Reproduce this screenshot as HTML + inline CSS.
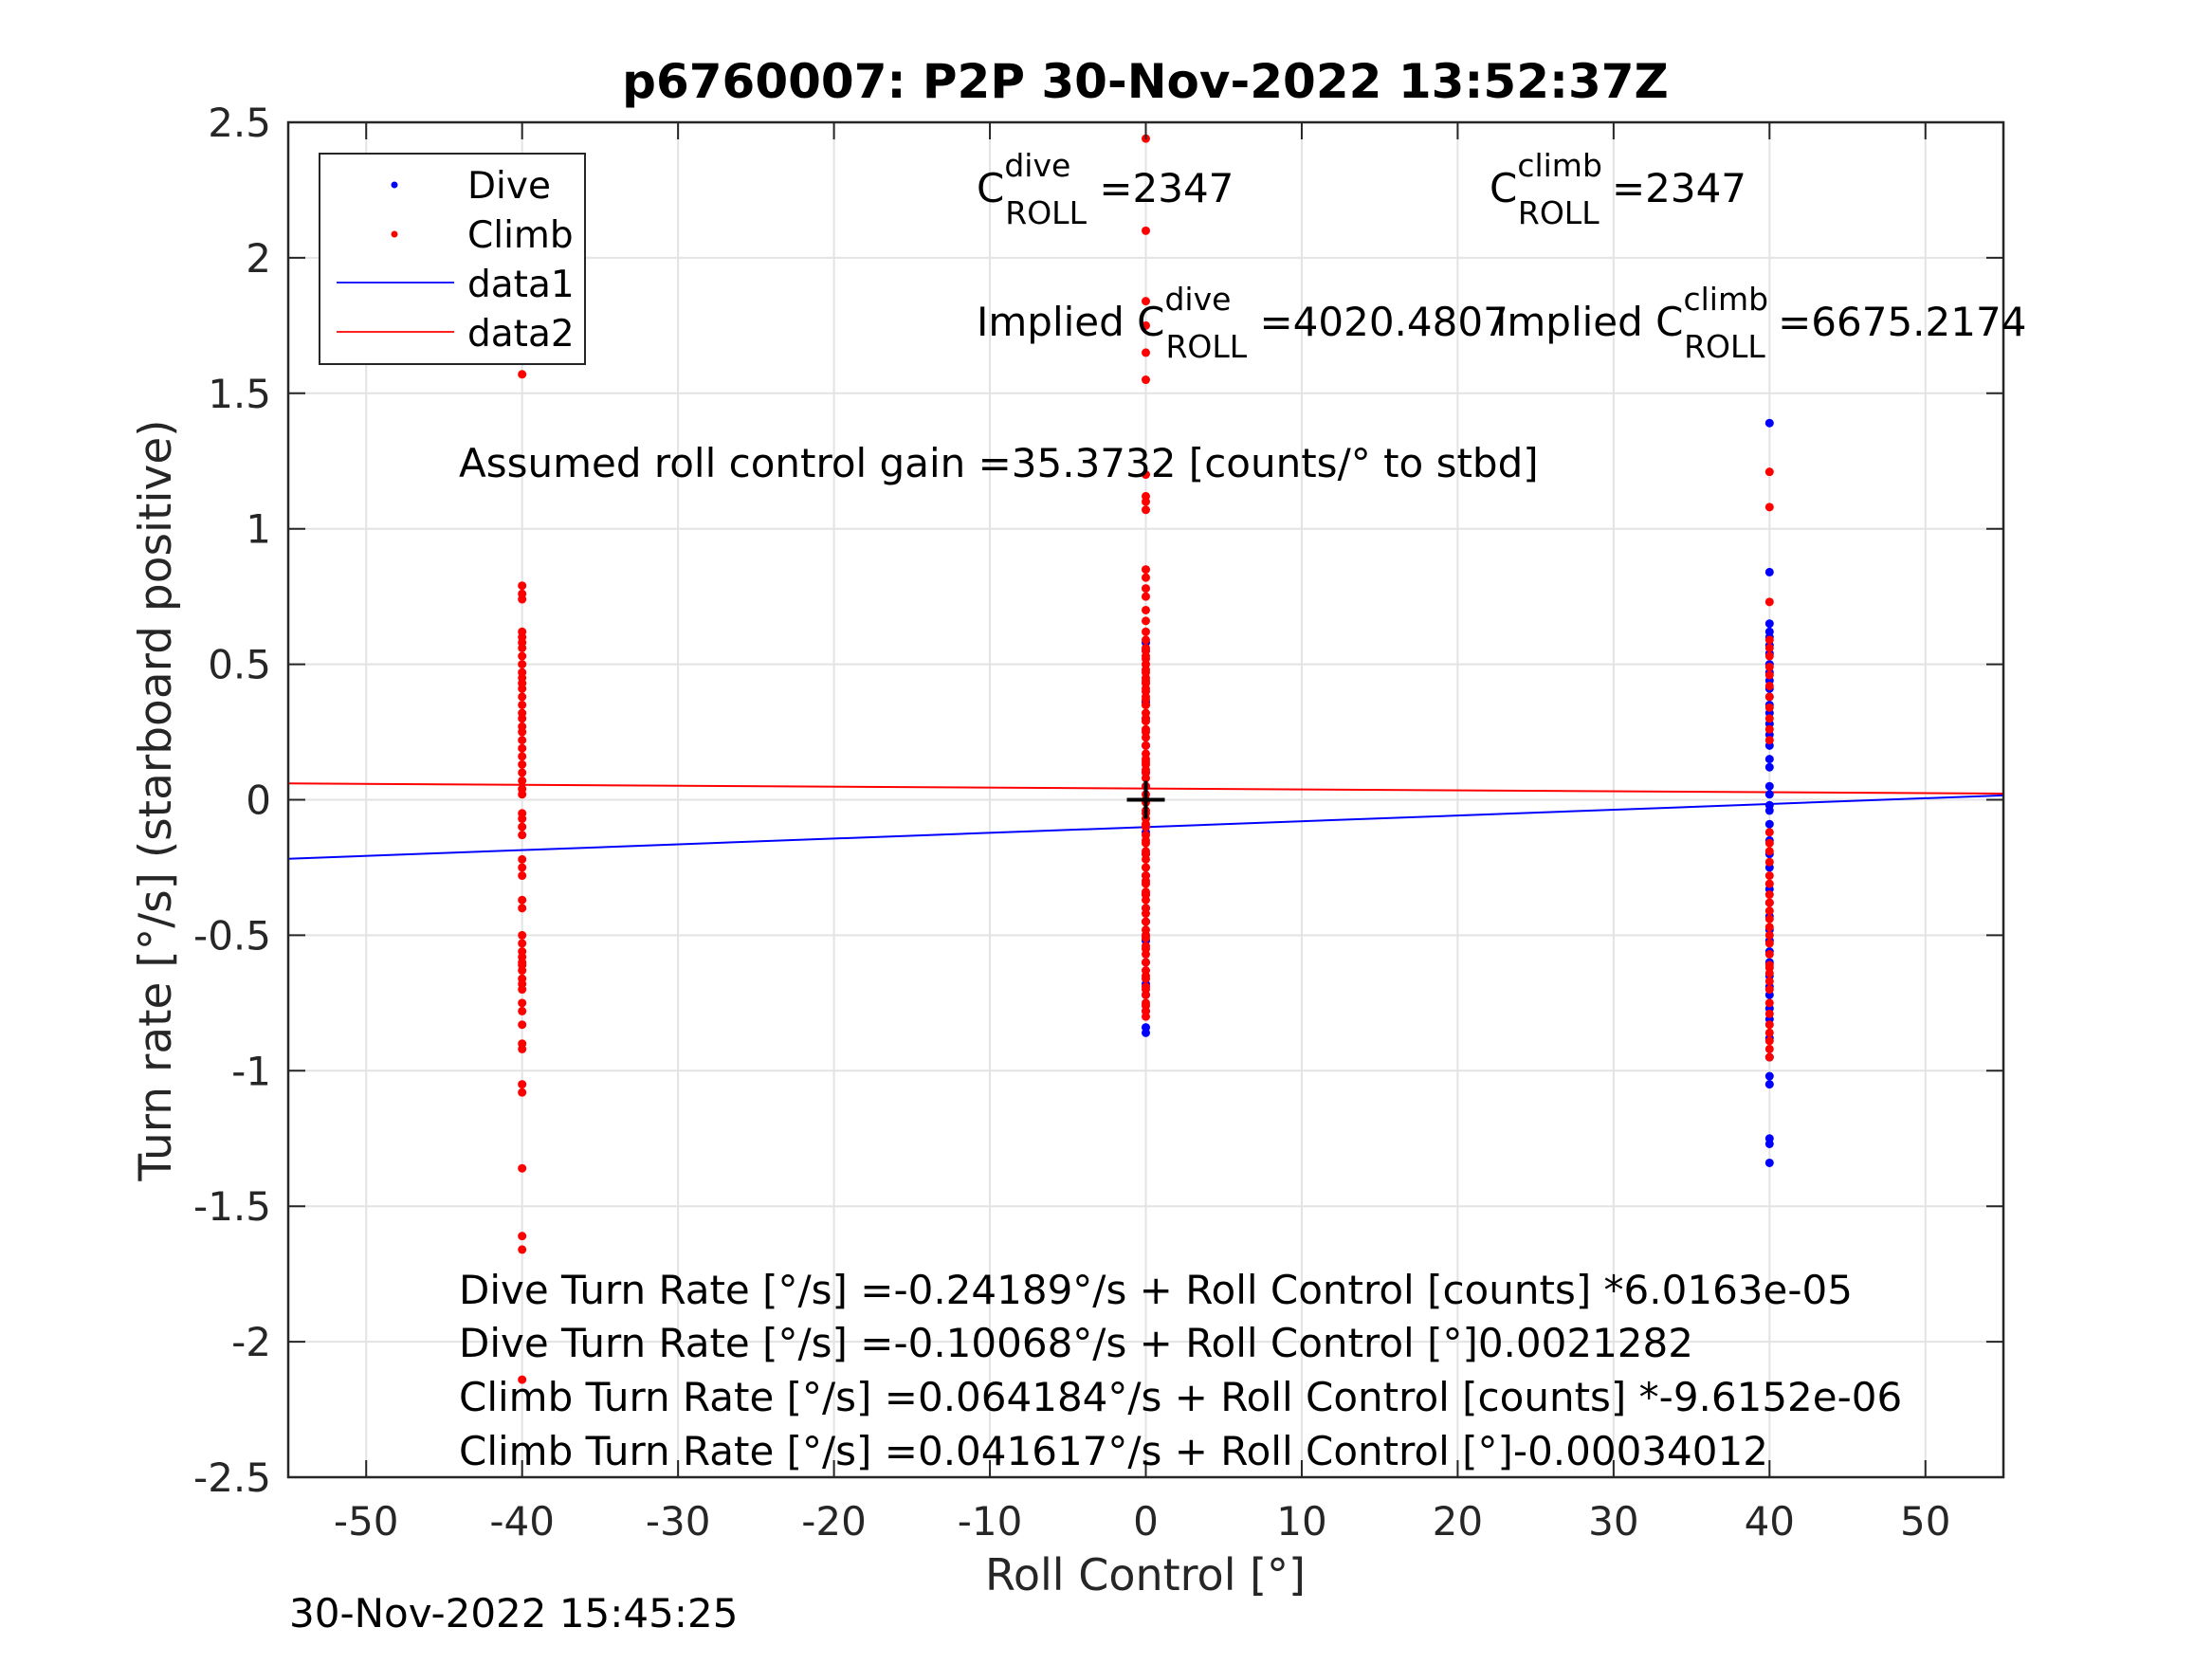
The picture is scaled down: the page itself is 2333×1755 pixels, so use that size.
<!DOCTYPE html>
<html><head><meta charset="utf-8"><style>
html,body{margin:0;padding:0;background:#fff}
svg text{font-family:"DejaVu Sans","Liberation Sans",sans-serif}
</style></head><body>
<svg id="chart" width="2333" height="1750" viewBox="0 0 2333 1750" xmlns="http://www.w3.org/2000/svg">
<rect x="0" y="0" width="2333" height="1750" fill="#fff"/>
<rect x="304" y="129" width="1809" height="1429" fill="#fff"/>
<g id="grid"></g>
<g id="lines"></g>
<g id="points"></g>
<g id="axes"></g>
<text x="1208" y="103" font-size="50" font-weight="bold" text-anchor="middle" fill="#000">p6760007: P2P 30-Nov-2022 13:52:37Z</text>
<text x="1208" y="1677" font-size="46" text-anchor="middle" fill="#262626">Roll Control [°]</text>
<text transform="translate(180,844) rotate(-90)" font-size="47" text-anchor="middle" fill="#262626">Turn rate [°/s] (starboard positive)</text>
<text x="305" y="1716" font-size="42" fill="#000">30-Nov-2022 15:45:25</text>
<g font-size="42" fill="#000">
<text x="1030" y="213">C<tspan font-size="33" dy="-27">dive</tspan><tspan font-size="33" dx="-69" dy="50">ROLL</tspan><tspan dy="-23"> =2347</tspan></text>
<text x="1571" y="213">C<tspan font-size="33" dy="-27">climb</tspan><tspan font-size="33" dx="-89" dy="50">ROLL</tspan><tspan dy="-23"> =2347</tspan></text>
<text x="1030" y="354">Implied C<tspan font-size="33" dy="-27">dive</tspan><tspan font-size="33" dx="-69" dy="50">ROLL</tspan><tspan dy="-23"> =4020.4807</tspan></text>
<text x="1577" y="354">Implied C<tspan font-size="33" dy="-27">climb</tspan><tspan font-size="33" dx="-89" dy="50">ROLL</tspan><tspan dy="-23"> =6675.2174</tspan></text>
<text x="484" y="503">Assumed roll control gain =35.3732 [counts/° to stbd]</text>
<text x="484" y="1375">Dive Turn Rate [°/s] =-0.24189°/s + Roll Control [counts] *6.0163e-05</text>
<text x="484" y="1431">Dive Turn Rate [°/s] =-0.10068°/s + Roll Control [°]0.0021282</text>
<text x="484" y="1488">Climb Turn Rate [°/s] =0.064184°/s + Roll Control [counts] *-9.6152e-06</text>
<text x="484" y="1545">Climb Turn Rate [°/s] =0.041617°/s + Roll Control [°]-0.00034012</text>
</g>
<g>
<rect x="337" y="162" width="280" height="222" fill="#fff" stroke="#262626" stroke-width="2"/>
<circle cx="416" cy="195" r="3.5" fill="#00f"/>
<text x="493" y="209" font-size="39">Dive</text>
<circle cx="416" cy="247" r="3.5" fill="#f00"/>
<text x="493" y="261" font-size="39">Climb</text>
<line x1="355" y1="298" x2="479" y2="298" stroke="#00f" stroke-width="1.8"/>
<text x="493" y="313" font-size="39">data1</text>
<line x1="355" y1="350" x2="479" y2="350" stroke="#f00" stroke-width="1.8"/>
<text x="493" y="365" font-size="39">data2</text>
</g>
</svg>
<script>
const xTicks = [-50,-40,-30,-20,-10,0,10,20,30,40,50];
const yTicks = [-2.5,-2,-1.5,-1,-0.5,0,0.5,1,1.5,2,2.5];
const yTickLabels = ["-2.5","-2","-1.5","-1","-0.5","0","0.5","1","1.5","2","2.5"];
const diveLineX = [-55,55];
const diveLineY = [-0.2177,0.0163];
const climbLineX = [-55,55];
const climbLineY = [0.0603,0.0229];
const columnX = [-40,0,40];
const climbNeg40 = [1.57,0.79,0.76,0.74,0.62,0.60,0.58,0.56,0.53,0.50,0.47,0.45,0.43,0.41,0.38,0.35,0.32,0.30,0.27,0.25,0.22,0.19,0.16,0.13,0.10,0.07,0.04,0.02,-0.05,-0.07,-0.10,-0.13,-0.22,-0.25,-0.28,-0.37,-0.40,-0.50,-0.53,-0.56,-0.58,-0.61,-0.63,-0.66,-0.68,-0.70,-0.75,-0.78,-0.83,-0.90,-0.92,-1.05,-1.08,-1.36,-1.61,-1.66,-2.14,-0.60];
const climbZero = [2.44,2.10,1.84,1.75,1.65,1.55,1.20,1.12,1.10,1.07,0.85,0.82,0.78,0.75,0.70,0.66,0.62,0.59,0.56,0.53,0.50,0.47,0.44,0.41,0.38,0.35,0.32,0.29,0.26,0.23,0.20,0.17,0.14,0.11,0.08,0.05,0.02,-0.01,-0.04,-0.07,-0.10,-0.13,-0.16,-0.19,-0.22,-0.25,-0.28,-0.31,-0.34,-0.37,-0.42,-0.45,-0.48,-0.51,-0.54,-0.57,-0.60,-0.63,-0.66,-0.69,-0.72,-0.75,-0.78,-0.80,0.25,0.15,0.0,-0.05,0.45,0.35,-0.20,-0.30,0.10,0.30,0.40,-0.15,-0.25,0.55,0.52,0.48,-0.40,-0.50,-0.70,-0.76,0.43,0.37,0.13,-0.09,-0.35,-0.55,-0.65];
const climbPos40 = [1.21,1.08,0.73,0.59,0.56,0.53,0.49,0.46,0.42,0.38,0.34,0.30,0.26,0.22,-0.12,-0.16,-0.19,-0.23,-0.28,-0.31,-0.35,-0.38,-0.41,-0.44,-0.47,-0.50,-0.53,-0.57,-0.61,-0.64,-0.67,-0.70,-0.75,-0.79,-0.83,-0.86,-0.89,-0.92,-0.95,-0.62];
const diveZero = [0.58,0.55,0.36,0.20,0.05,-0.12,-0.28,-0.35,-0.40,-0.45,-0.52,-0.60,-0.68,-0.78,-0.84,-0.86,0.10,-0.20,0.30,-0.50,-0.72];
const divePos40 = [1.39,0.84,0.65,0.62,0.60,0.57,0.54,0.50,0.47,0.44,0.41,0.38,0.35,0.32,0.28,0.24,0.20,0.15,0.12,0.05,0.02,-0.02,-0.04,-0.09,-0.15,-0.20,-0.25,-0.33,-0.38,-0.43,-0.48,-0.52,-0.56,-0.60,-0.65,-0.69,-0.72,-0.77,-0.81,-0.88,-0.95,-1.02,-1.05,-1.25,-1.27,-1.34];
const climbY = [climbNeg40, climbZero, climbPos40];
const diveY = [[], diveZero, divePos40];
const L=304,R=2113,T=129,B=1558;
const xMin=-55,xMax=55,yMin=-2.5,yMax=2.5;
function sx(v){return L+(v-xMin)/(xMax-xMin)*(R-L);}
function sy(v){return B-(v-yMin)/(yMax-yMin)*(B-T);}
const NS="http://www.w3.org/2000/svg";
function mk(tag,attrs,parent){const e=document.createElementNS(NS,tag);for(const k in attrs)e.setAttribute(k,attrs[k]);parent.appendChild(e);return e;}
const grid=document.getElementById('grid'),axes=document.getElementById('axes'),lines=document.getElementById('lines'),pts=document.getElementById('points');
xTicks.forEach((v,i)=>{
  const g=mk('line',{x1:sx(v),x2:sx(v),y1:T,y2:B,stroke:'#e3e3e3','stroke-width':2},grid);
  
  
  const t1=mk('line',{x1:sx(v),x2:sx(v),y1:B,y2:B-18,stroke:'#262626','stroke-width':2},axes);
  
  
  const t2=mk('line',{x1:sx(v),x2:sx(v),y1:T,y2:T+18,stroke:'#262626','stroke-width':2},axes);
  
  
  const lb=mk('text',{x:sx(v),y:1619,'font-size':42,'text-anchor':'middle',fill:'#262626'},axes);
  lb.textContent=String(v);
  
  
});
yTicks.forEach((v,i)=>{
  const g=mk('line',{x1:L,x2:R,y1:sy(v),y2:sy(v),stroke:'#e3e3e3','stroke-width':2},grid);
  
  
  const t1=mk('line',{x1:L,x2:L+18,y1:sy(v),y2:sy(v),stroke:'#262626','stroke-width':2},axes);
  
  
  const t2=mk('line',{x1:R,x2:R-18,y1:sy(v),y2:sy(v),stroke:'#262626','stroke-width':2},axes);
  
  
  const lb=mk('text',{x:286,y:sy(v)+15,'font-size':42,'text-anchor':'end',fill:'#262626'},axes);
  lb.textContent=yTickLabels[i];
  
  
});
const box=mk('rect',{x:L,y:T,width:R-L,height:B-T,fill:'none',stroke:'#262626','stroke-width':2.5},axes);


const l1=mk('polyline',{points:diveLineX.map((x,i)=>sx(x)+','+sy(diveLineY[i])).join(' '),fill:'none',stroke:'#00f','stroke-width':2},lines);


const l2=mk('polyline',{points:climbLineX.map((x,i)=>sx(x)+','+sy(climbLineY[i])).join(' '),fill:'none',stroke:'#f00','stroke-width':2},lines);


columnX.forEach((x,ci)=>{
  diveY[ci].forEach(y=>{
    const c=mk('circle',{cx:sx(x),cy:sy(y),r:4.5,fill:'#00f'},pts);
    
    
  });
});
columnX.forEach((x,ci)=>{
  climbY[ci].forEach(y=>{
    const c=mk('circle',{cx:sx(x),cy:sy(y),r:4.5,fill:'#f00'},pts);
    
    
  });
});
const ph=mk('line',{x1:sx(0)-20,x2:sx(0)+20,y1:sy(0),y2:sy(0),stroke:'#000','stroke-width':4},pts);


const pv=mk('line',{x1:sx(0),x2:sx(0),y1:sy(0)-20,y2:sy(0)+20,stroke:'#000','stroke-width':4},pts);


</script>
</body></html>
